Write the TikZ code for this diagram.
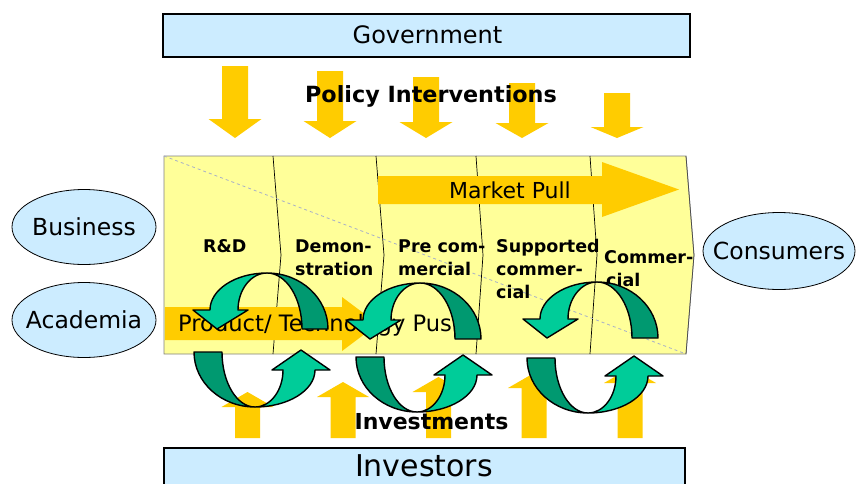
\documentclass[tikz,border=0pt]{standalone}
\usepackage{fontspec}
\setmainfont{DejaVu Sans}
\usetikzlibrary{shapes.geometric}
\definecolor{boxblue}{HTML}{CCECFF}
\definecolor{paleyellow}{HTML}{FFFF99}
\definecolor{gold}{HTML}{FFCC00}
\definecolor{lgreen}{HTML}{00CC99}
\definecolor{dgreen}{HTML}{009970}
\definecolor{diaggray}{HTML}{A8B0C8}
\tikzset{
  bluebox/.style={draw=black, line width=2pt, fill=boxblue, inner sep=0pt},
  actor/.style={ellipse, draw=black, line width=0.8pt, fill=boxblue, inner sep=0pt,
    minimum width=144pt, minimum height=75pt},
  actortxt/.style={inner sep=0pt, font=\fontsize{23.5}{28}\selectfont},
  stagetxt/.style={anchor=base west, inner sep=0pt, font=\bfseries\fontsize{17.5}{22}\selectfont},
  bigbold/.style={anchor=base, inner sep=0pt, font=\bfseries\fontsize{22.3}{26}\selectfont},
  flowtxt/.style={inner sep=0pt, font=\fontsize{22}{26}\selectfont},
  darkpart/.style={fill=dgreen, draw=black, line width=1.4pt, line join=round},
  lightpart/.style={fill=lgreen, draw=black, line width=1.4pt, line join=round},
}
\newcommand{\policyarrow}[3]{%
  \fill[gold] (#1-13,#2) -- (#1+13,#2) -- (#1+13,#3) -- (#1+26.5,#3) -- (#1,138)
    -- (#1-26.5,#3) -- (#1-13,#3) -- cycle;}
\newcommand{\investarrow}[3]{%
  \fill[gold] (#1-12.5,438) -- (#1-12.5,#3) -- (#1-26,#3) -- (#1,#2) -- (#1+26,#3)
    -- (#1+12.5,#3) -- (#1+12.5,438) -- cycle;}
\newcommand{\upperloop}[2]{%
  \begin{scope}[shift={(#1,#2)}]
    \path[darkpart] (0,0) .. controls (33.7,0) and (61,25) .. (61,56) -- (35,56)
      .. controls (35,25) and (19.3,0) .. (0,0) -- cycle;
    \path[lightpart] (0,0) .. controls (-31.5,0) and (-57,16.6) .. (-57,37) -- (-74,37)
      -- (-50,56) -- (-19,37) -- (-29,37) .. controls (-29,16.6) and (-16,0) .. (0,0) -- cycle;
  \end{scope}}
\newcommand{\lowerloop}[2]{%
  \begin{scope}[shift={(#1,#2)}]
    \path[darkpart] (-61,-55) .. controls (-61,-24.6) and (-33.7,0) .. (0,0)
      .. controls (-18.2,0) and (-33,-24.6) .. (-33,-55) -- cycle;
    \path[lightpart] (0,0) .. controls (33.1,0) and (60,-16.6) .. (60,-37) -- (75,-37)
      -- (46,-57) -- (17,-37) -- (28,-37) .. controls (28,-16.6) and (15.5,0) .. (0,0) -- cycle;
  \end{scope}}
\begin{document}
\begin{tikzpicture}[x=1pt, y=-1pt]
\useasboundingbox (0,0) rectangle (857,483);
\fill[white] (0,0) rectangle (857,483);

% Government
\node[bluebox, minimum width=527pt, minimum height=43pt] (gov) at (426.5,35) {};
\node[flowtxt, font=\fontsize{24}{28}\selectfont] (govtxt) at (427.5,35) {Government};

% policy arrows
\policyarrow{235}{66}{119}
\policyarrow{330}{71}{121}
\policyarrow{426}{77}{122}
\policyarrow{522}{83}{123}
\policyarrow{617}{93}{127}
\node[bigbold] (policy) at (431,102) {Policy Interventions};

% main stage box
\path[fill=paleyellow, draw=gray, line width=0.8pt]
  (164,156) -- (686,156) -- (694,255) -- (686,354) -- (164,354) -- cycle;
\draw[black, line width=0.7pt] (273,156) -- (281,255) -- (273,354);
\draw[black, line width=0.7pt] (376,156) -- (384,255) -- (376,354);
\draw[black, line width=0.7pt] (476,156) -- (483,255) -- (476,354);
\draw[black, line width=0.7pt] (590,156) -- (597,255) -- (590,354);
\draw[black!70, line width=0.7pt] (686,156) -- (694,255) -- (686,354);
\draw[diaggray, dashed, line width=0.8pt] (164,156) -- (686,354);

% market pull
\fill[gold] (378,176) -- (602,176) -- (602,162) -- (679,189.5) -- (602,217)
  -- (602,204) -- (378,204) -- cycle;
\node[flowtxt, anchor=base] (pull) at (510,198) {Market Pull};

% product push
\fill[gold] (165,307) -- (342,307) -- (342,297) -- (378,324) -- (342,351)
  -- (342,340) -- (165,340) -- cycle;
\node[flowtxt, anchor=base west, font=\fontsize{22.6}{26}\selectfont] (push) at (178,331) {Product/ Technology Push};

% stage labels
\node[stagetxt] (rd) at (203,252) {R\&D};
\node[stagetxt] (demoA) at (295,252) {Demon-};
\node[stagetxt] (demoB) at (295,275) {stration};
\node[stagetxt] (preA) at (398,252) {Pre com-};
\node[stagetxt] (preB) at (398,275) {mercial};
\node[stagetxt] (supA) at (496,252) {Supported};
\node[stagetxt] (supB) at (496,275) {commer-};
\node[stagetxt] (supC) at (496,298) {cial};
\node[stagetxt] (comA) at (604,263) {Commer-};
\node[stagetxt] (comB) at (606,286) {cial};

% upper loops
\upperloop{267}{273}
\upperloop{420}{283}
\upperloop{597}{282}

% investment arrows
\investarrow{247.5}{392}{407}
\investarrow{343}{382}{397}
\investarrow{438.5}{377}{392}
\investarrow{534}{373}{388}
\investarrow{630}{368}{383}

% lower loops
\lowerloop{255}{407}
\lowerloop{417}{412}
\lowerloop{588}{413}

\node[bigbold, font=\bfseries\fontsize{22}{26}\selectfont] (invest) at (431.5,429) {Investments};

% actors
\node[actor] (bus) at (84,227) {};
\node[actortxt] (bustxt) at (84,227) {Business};
\node[actor] (aca) at (84,320) {};
\node[actortxt] (acatxt) at (84,320) {Academia};
\node[actor, minimum width=152pt, minimum height=77pt] (con) at (779,251) {};
\node[actortxt] (contxt) at (779,251) {Consumers};

% investors
\node[bluebox, minimum width=521pt, minimum height=50pt, anchor=north west] (inv) at (163,447) {};
\node[flowtxt, font=\fontsize{30}{34}\selectfont] (invtxt) at (424,465.5) {Investors};
\end{tikzpicture}
\end{document}
